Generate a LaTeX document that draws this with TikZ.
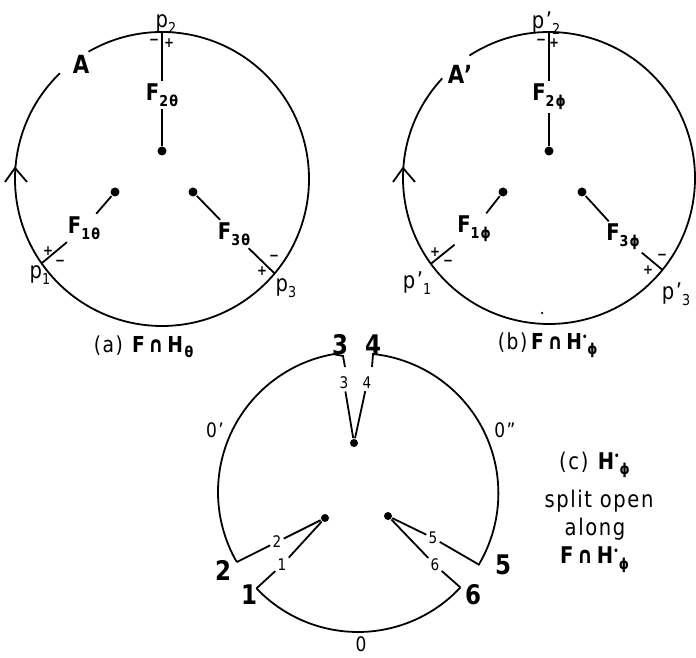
\documentclass[tikz,border=0pt]{standalone}
\usepackage{fontspec}
\setmainfont{DejaVu Sans}[FakeStretch=0.85, LetterSpace=7]
\newcommand{\sbs}[1]{\raisebox{-0.45ex}{\fontsize{15}{15}\selectfont #1}}
\newcommand{\hst}{H\raisebox{0.75ex}{\fontsize{10}{10}\selectfont •}}
\begin{document}
\begin{tikzpicture}[x=1pt,y=1pt,line width=1.8pt,
  dot/.style={circle,fill,inner sep=0pt,minimum size=9pt},
  sdot/.style={circle,fill,inner sep=0pt,minimum size=8pt},
  flab/.style={font=\bfseries\fontsize{23}{23}\selectfont, inner sep=2pt},
  sgn/.style={font=\bfseries\fontsize{14}{14}\selectfont, inner sep=0pt},
  plab/.style={font=\fontsize{23}{23}\selectfont, inner sep=0pt},
  alab/.style={font=\bfseries\fontsize{25}{25}\selectfont, inner sep=0pt},
  big/.style={font=\bfseries\fontsize{27}{27}\selectfont, inner sep=0pt},
  small/.style={font=\fontsize{16}{16}\selectfont, inner sep=1.5pt},
  zlab/.style={font=\fontsize{20}{20}\selectfont, inner sep=0pt},
  captxt/.style={font=\fontsize{22}{22}\selectfont, inner sep=0pt},
  txt/.style={font=\fontsize{23}{23}\selectfont, inner sep=0pt}]
\useasboundingbox (0,0) rectangle (696,658);

% ---------------- (a) ----------------
\coordinate (C1) at (162,479);
\draw ([shift={(134:147pt)}]C1) arc[start angle=134, end angle=480, radius=147pt];
\coordinate (p2) at ([shift={(90:147pt)}]C1);
\coordinate (p1) at ([shift={(215:147pt)}]C1);
\coordinate (p3) at ([shift={(320:147pt)}]C1);
\node[dot] (D2) at (162,507) {};
\node[dot] (D1) at (115,466) {};
\node[dot] (D3) at (193,466) {};
\node[flab] (F2) at (162,563) {F\sbs{2θ}};
\node[flab] (F1) at (84,430) {F\sbs{1θ}};
\node[flab] (F3) at (234,424) {F\sbs{3θ}};
\draw (p2) -- (F2); \draw (F2) -- (D2);
\draw (p1) -- (F1); \draw (F1) -- (D1);
\draw (p3) -- (F3); \draw (F3) -- (D3);
\node[alab] (A) at (81,594) {A};
\draw (5,476) -- (15,490) -- (27,476);
\node[plab] (lp2) at (166,634) {p\sbs{2}};
\node[plab] (lp1) at (40,383) {p\sbs{1}};
\node[plab] (lp3) at (286,370) {p\sbs{3}};
\node[sgn] (m2) at (154,616) {−};
\node[sgn] (s2p) at (169,615) {+};
\node[sgn] (s1p) at (48,407) {+};
\node[sgn] (m1) at (60,395) {−};
\node[sgn] (m3) at (274,400) {−};
\node[sgn] (s3p) at (262,387) {+};
\node[captxt, anchor=west] (capa) at (93,311) {(a) \textbf{F\,∩\,H}\sbs{\textbf{θ}}};

% ---------------- (b) ----------------
\coordinate (C2) at (549,480);
\draw ([shift={(137:146pt)}]C2) arc[start angle=137, end angle=483, radius=146pt];
\coordinate (q2p) at ([shift={(90:146pt)}]C2);
\coordinate (q1p) at ([shift={(216:146pt)}]C2);
\coordinate (q3p) at ([shift={(321:146pt)}]C2);
\node[dot] (E2) at (549,507) {};
\node[dot] (E1) at (503,466) {};
\node[dot] (E3) at (582,466) {};
\node[flab] (G2) at (549,561) {F\sbs{2ϕ}};
\node[flab] (G1) at (474,429) {F\sbs{1ϕ}};
\node[flab] (G3) at (623,421) {F\sbs{3ϕ}};
\draw (q2p) -- (G2); \draw (G2) -- (E2);
\draw (q1p) -- (G1); \draw (G1) -- (E1);
\draw (q3p) -- (G3); \draw (G3) -- (E3);
\node[alab] (Ap) at (460,584) {A'};
\draw (393,476) -- (403,490) -- (415,476);
\node[plab] (lq2) at (546,635) {p'\sbs{2}};
\node[plab] (lq1) at (417,375) {p'\sbs{1}};
\node[plab] (lq3) at (676,364) {p'\sbs{3}};
\node[sgn] (n2) at (541,616) {−};
\node[sgn] (t2p) at (554,615) {+};
\node[sgn] (t1p) at (435,406) {+};
\node[sgn] (n1) at (448,395) {−};
\node[sgn] (n3) at (662,401) {−};
\node[sgn] (t3p) at (648,388) {+};
\node[circle,fill,inner sep=0pt,minimum size=2.5pt] (speck) at (542,345) {};
\node[captxt, anchor=west] (capb) at (497,313) {(b)\,\textbf{F\,∩\,\hst}\sbs{\textbf{ϕ}}};

% ---------------- (c) ----------------
\coordinate (C3) at (358,166);
\coordinate (q2) at ([shift={(210:140pt)}]C3);
\coordinate (q1) at ([shift={(223.5:140pt)}]C3);
\coordinate (q6) at ([shift={(317:140pt)}]C3);
\coordinate (q5) at ([shift={(-31:140pt)}]C3);
\coordinate (t3) at (345,291);
\coordinate (t4) at (372,291);
\draw (q2) arc[start angle=210, end angle=100, radius=140pt] -- (343,302) -- (t3);
\draw (t4) -- (373,304) arc[start angle=84, end angle=-31, radius=140pt];
\draw (q1) arc[start angle=223.5, end angle=317, radius=140pt];
\node[sdot] (DC) at (354,215) {};
\node[sdot] (DL) at (325,140) {};
\node[sdot] (DR) at (388,142) {};
\node[small] (s3) at (344,275) {3};
\node[small] (s4) at (367,275) {4};
\draw (s3) -- (DC); \draw (s4) -- (DC);
\node[small] (s2) at (277,116) {2};
\node[small] (s1) at (282,93) {1};
\node[small] (s5) at (433,120) {5};
\node[small] (s6) at (435,93) {6};
\draw (q2) -- (s2); \draw (s2) -- (DL);
\draw (q1) -- (s1); \draw (s1) -- (DL);
\draw (q5) -- (s5); \draw (s5) -- (DR);
\draw (q6) -- (s6); \draw (s6) -- (DR);
\node[big] (b3) at (340,313) {3};
\node[big] (b4) at (373,313) {4};
\node[big] (b2) at (223,88) {2};
\node[big] (b1) at (249,63) {1};
\node[big] (b5) at (503,93) {5};
\node[big] (b6) at (473,63) {6};
\node[zlab] (z1) at (215,228) {0'};
\node[zlab] (z2) at (505,228) {0''};
\node[zlab] (z0) at (361,14) {0};
\node[txt] (c1) at (595,193) {(c) \textbf{\hst}\sbs{\textbf{ϕ}}};
\node[txt] (c2) at (599,157) {split open};
\node[txt] (c3) at (595,129) {along};
\node[txt] (c4) at (595,98) {\textbf{F\,∩\,\hst}\sbs{\textbf{ϕ}}};
\end{tikzpicture}
\end{document}
